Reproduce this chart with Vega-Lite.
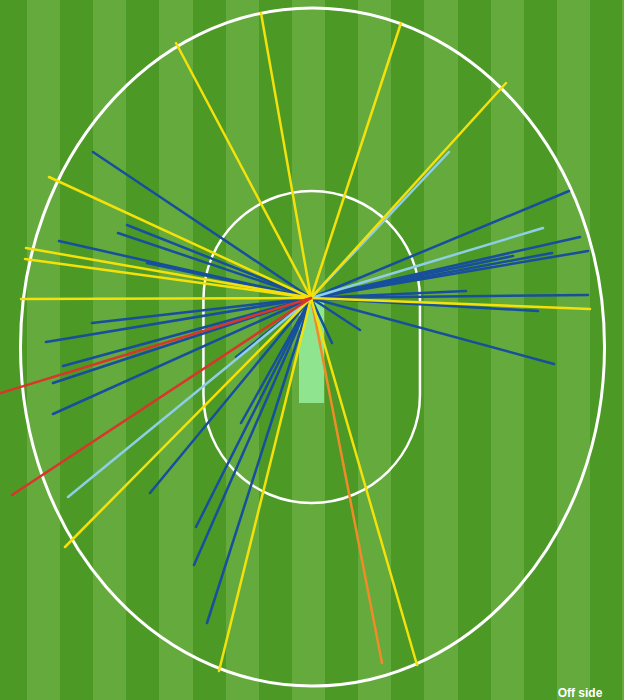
{
  "$schema": "https://vega.github.io/schema/vega-lite/v6.json",
  "width": 624,
  "height": 700,
  "padding": 0,
  "autosize": {"type": "fit", "contains": "padding"},
  "background": "#64aa3c",
  "config": {"view": {"stroke": null}},
  "datasets": {
    "stripes": [
      {"x0": -318, "x1": -284}, {"x0": -251, "x1": -218}, {"x0": -185, "x1": -152},
      {"x0": -118, "x1": -85}, {"x0": -52, "x1": -19}, {"x0": 14, "x1": 47},
      {"x0": 80, "x1": 113}, {"x0": 147, "x1": 180}, {"x0": 213, "x1": 246},
      {"x0": 279, "x1": 311}
    ],
    "pitch": [{"x0": -12, "x1": 13, "y0": -2, "y1": -105}],
    "ground": [{"x": 1.5, "y": -49}],
    "circle": [{"x": 0.7, "y": -49}],
    "shots": [
      {"x": -218, "y": 146, "runs": 1}, {"x": -184, "y": 73, "runs": 1}, {"x": -193, "y": 65, "runs": 1},
      {"x": -252, "y": 57, "runs": 1}, {"x": -164, "y": 35, "runs": 1}, {"x": -219, "y": -25, "runs": 1},
      {"x": -265, "y": -44, "runs": 1}, {"x": -248, "y": -68, "runs": 1}, {"x": -258, "y": -85, "runs": 1},
      {"x": -258, "y": -116, "runs": 1}, {"x": -161, "y": -195, "runs": 1}, {"x": -75, "y": -59, "runs": 1},
      {"x": -70, "y": -125, "runs": 1}, {"x": -115, "y": -229, "runs": 1}, {"x": -117, "y": -267, "runs": 1},
      {"x": -104, "y": -325, "runs": 1}, {"x": 258, "y": 107, "runs": 1}, {"x": 269, "y": 61, "runs": 1},
      {"x": 277, "y": 47, "runs": 1}, {"x": 241, "y": 45, "runs": 1}, {"x": 202, "y": 42, "runs": 1},
      {"x": 155, "y": 7, "runs": 1}, {"x": 277, "y": 3, "runs": 1}, {"x": 227, "y": -13, "runs": 1},
      {"x": 49, "y": -32, "runs": 1}, {"x": 21, "y": -45, "runs": 1}, {"x": 243, "y": -66, "runs": 1},
      {"x": 138, "y": 146, "runs": 2}, {"x": 232, "y": 70, "runs": 2}, {"x": -243, "y": -199, "runs": 2},
      {"x": 71, "y": -365, "runs": 3},
      {"x": -50, "y": 285, "runs": 4}, {"x": -135, "y": 255, "runs": 4}, {"x": -262, "y": 121, "runs": 4},
      {"x": -285, "y": 50, "runs": 4}, {"x": -286, "y": 39, "runs": 4}, {"x": -290, "y": -1, "runs": 4},
      {"x": -246, "y": -249, "runs": 4}, {"x": -92, "y": -373, "runs": 4}, {"x": 90, "y": 275, "runs": 4},
      {"x": 195, "y": 215, "runs": 4}, {"x": 279, "y": -11, "runs": 4}, {"x": 106, "y": -367, "runs": 4},
      {"x": -320, "y": -98, "runs": 6}, {"x": -299, "y": -197, "runs": 6}
    ],
    "labels": [{"label": "Off side", "x": 269, "y": -395}]
  },
  "layer": [
    {
      "data": {"name": "stripes"},
      "mark": {"type": "rect", "color": "#4c9926", "clip": true},
      "encoding": {
        "x": {"field": "x0", "type": "quantitative", "scale": {"domain": [-311, 313], "nice": false, "zero": false}, "axis": null},
        "x2": {"field": "x1"},
        "y": {"datum": -402, "type": "quantitative", "scale": {"domain": [-402, 298], "nice": false, "zero": false}, "axis": null},
        "y2": {"datum": 298}
      }
    },
    {
      "data": {"name": "pitch"},
      "mark": {"type": "rect", "color": "#8fe58f"},
      "encoding": {
        "x": {"field": "x0", "type": "quantitative", "scale": {"domain": [-311, 313], "nice": false, "zero": false}, "axis": null},
        "x2": {"field": "x1"},
        "y": {"field": "y0", "type": "quantitative", "scale": {"domain": [-402, 298], "nice": false, "zero": false}, "axis": null},
        "y2": {"field": "y1"}
      }
    },
    {
      "data": {"name": "ground"},
      "mark": {"type": "point", "shape": "M -0.8614 0 A 0.8614 1 0 1 1 0.8614 0 A 0.8614 1 0 1 1 -0.8614 0 Z", "size": 459684, "filled": false, "color": "white", "strokeWidth": 3, "opacity": 1},
      "encoding": {
        "x": {"field": "x", "type": "quantitative", "scale": {"domain": [-311, 313], "nice": false, "zero": false}, "axis": null},
        "y": {"field": "y", "type": "quantitative", "scale": {"domain": [-402, 298], "nice": false, "zero": false}, "axis": null}
      }
    },
    {
      "data": {"name": "circle"},
      "mark": {"type": "point", "shape": "M -0.694 -0.306 A 0.694 0.694 0 0 1 0.694 -0.306 L 0.694 0.306 A 0.694 0.694 0 0 1 -0.694 0.306 Z", "size": 97344, "filled": false, "color": "white", "strokeWidth": 2.5, "opacity": 1},
      "encoding": {
        "x": {"field": "x", "type": "quantitative", "scale": {"domain": [-311, 313], "nice": false, "zero": false}, "axis": null},
        "y": {"field": "y", "type": "quantitative", "scale": {"domain": [-402, 298], "nice": false, "zero": false}, "axis": null}
      }
    },
    {
      "data": {"name": "shots"},
      "mark": {"type": "rule", "strokeWidth": 2.5, "strokeCap": "round", "clip": true},
      "encoding": {
        "x": {"field": "x", "type": "quantitative", "scale": {"domain": [-311, 313], "nice": false, "zero": false}, "axis": null},
        "y": {"field": "y", "type": "quantitative", "scale": {"domain": [-402, 298], "nice": false, "zero": false}, "axis": null},
        "x2": {"datum": 0},
        "y2": {"datum": 0},
        "color": {"field": "runs", "type": "nominal", "scale": {"domain": [1, 2, 3, 4, 6], "range": ["#174f9c", "#8ccfe6", "#f08c28", "#f5e10a", "#d9362b"]}, "legend": null}
      }
    },
    {
      "data": {"name": "labels"},
      "mark": {"type": "text", "font": "Liberation Sans", "fontSize": 12, "fontWeight": "bold", "color": "white", "align": "center", "baseline": "middle"},
      "encoding": {
        "x": {"field": "x", "type": "quantitative", "scale": {"domain": [-311, 313], "nice": false, "zero": false}, "axis": null},
        "y": {"field": "y", "type": "quantitative", "scale": {"domain": [-402, 298], "nice": false, "zero": false}, "axis": null},
        "text": {"field": "label"}
      }
    }
  ]
}
